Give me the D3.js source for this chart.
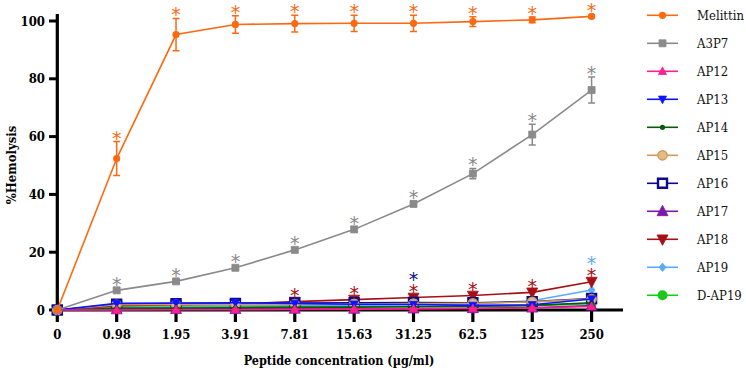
<!DOCTYPE html>
<html>
<head>
<meta charset="utf-8">
<script src="https://cdn.jsdelivr.net/npm/d3@7"></script>
<style>
  body { margin: 0; background: #fff; }
  svg { display: block; }
</style>
</head>
<body>
<div id="chart"></div>
<script>
// ---- data ----
const concentrations = ["0", "0.98", "1.95", "3.91", "7.81", "15.63", "31.25", "62.5", "125", "250"];
const yTicks = [0, 20, 40, 60, 80, 100];

const melittin    = [0, 52.4, 95.3, 98.8, 99.1, 99.2, 99.2, 99.8, 100.4, 101.6];
const melittinErr = [0, 5.9, 5.6, 3.0, 2.9, 2.8, 2.8, 1.7, 1.0, 0.5];
const a3p7        = [0, 6.8, 9.9, 14.6, 20.8, 27.9, 36.7, 47.2, 60.7, 76.1];
const a3p7Err     = [0, 0.6, 0.6, 0.7, 0.8, 0.8, 0.9, 1.8, 3.6, 4.5];
const ap12        = [0, 0, 0.1, 0.1, 0.2, 0.3, 0.4, 0.5, 0.7, 1.2];
const ap13        = [0, 2.3, 2.4, 2.5, 2.3, 2.0, 1.9, 1.6, 1.8, 3.8];
const ap14        = [0, 0.6, 0.7, 0.8, 0.9, 1.0, 1.1, 1.3, 1.6, 2.5];
const ap15        = [0, 1.8, 1.9, 1.9, 2.0, 2.1, 2.2, 2.3, 2.8, 3.8];
const ap16        = [0, 2.0, 2.2, 2.3, 2.4, 2.5, 2.6, 2.5, 2.9, 4.0];
const ap17        = [0, 0.2, 0.3, 0.3, 0.4, 0.4, 0.5, 0.6, 0.8, 1.5];
const ap18        = [0, 1.5, 1.8, 2.1, 2.9, 3.6, 4.3, 5.0, 6.1, 9.8];
const ap19        = [0, 1.4, 1.5, 1.5, 1.6, 1.7, 1.8, 2.0, 3.2, 6.9];
const dap19       = [0, 1.0, 1.0, 1.1, 1.1, 1.2, 1.2, 1.3, 1.5, 2.2];

// indices (into concentrations) marked with an asterisk
const starsMelittin = [1, 2, 3, 4, 5, 6, 7, 8, 9];
const starsA3P7     = [1, 2, 3, 4, 5, 6, 7, 8, 9];
const starsAP18     = [4, 5, 6, 7, 8, 9];
const starsAP16     = [6];
const starsAP19     = [9];

const series = [
  { name: "Melittin", values: melittin, err: melittinErr, color: "#fb6a12", marker: "circle", size: 3.6, stars: starsMelittin },
  { name: "A3P7", values: a3p7, err: a3p7Err, color: "#8a8a8a", marker: "square", size: 7, stars: starsA3P7 },
  { name: "AP12", values: ap12, color: "#ff1f8e", marker: "triangle", size: 8 },
  { name: "AP13", values: ap13, color: "#0a14ff", marker: "triangleDown", size: 8 },
  { name: "AP14", values: ap14, color: "#0b5a0b", marker: "circle", size: 2.6 },
  { name: "AP15", values: ap15, color: "#cf9a5a", fill: "#e2bc88", marker: "circle", size: 4.6 },
  { name: "AP16", values: ap16, color: "#0a0a8a", fill: "#ffffff", marker: "square", size: 9, stars: starsAP16 },
  { name: "AP17", values: ap17, color: "#7a1aa6", marker: "triangle", size: 11 },
  { name: "AP18", values: ap18, color: "#a80f14", marker: "triangleDown", size: 11, stars: starsAP18 },
  { name: "AP19", values: ap19, color: "#5aa9ff", marker: "diamond", size: 7, stars: starsAP19 },
  { name: "D-AP19", values: dap19, color: "#19c919", marker: "circle", size: 5 }
];

// ---- layout ----
const width = 746, height = 371;
const svg = d3.select("#chart").append("svg")
  .attr("width", width).attr("height", height);

const x = d3.scalePoint().domain(concentrations).range([57.3, 591.6]);
const y = d3.scaleLinear().domain([0, 100]).range([310, 21]);

const SERIF = "'DejaVu Serif Condensed', 'DejaVu Serif', serif";

function markerPath(type, s) {
  const h = s / 2;
  if (type === "square") return `M${-h},${-h}H${h}V${h}H${-h}Z`;
  if (type === "triangle") return `M0,${-h * 1.1}L${h},${h * 0.8}L${-h},${h * 0.8}Z`;
  if (type === "triangleDown") return `M0,${h * 1.1}L${h},${-h * 0.8}L${-h},${-h * 0.8}Z`;
  if (type === "diamond") return `M0,${-h * 1.2}L${h},0L0,${h * 1.2}L${-h},0Z`;
  return null;
}

function drawMarker(gg, s, cx, cy) {
  if (s.marker === "circle") {
    gg.append("circle").attr("cx", cx).attr("cy", cy).attr("r", s.size)
      .attr("fill", s.fill || s.color).attr("stroke", s.color).attr("stroke-width", s.fill ? 1.5 : 0);
  } else {
    const open = s.fill === "#ffffff";
    gg.append("path").attr("d", markerPath(s.marker, s.size))
      .attr("transform", `translate(${cx},${cy})`)
      .attr("fill", s.fill || s.color)
      .attr("stroke", s.color)
      .attr("stroke-width", open ? 2.4 : 0.8);
  }
}

// ---- axes ----
const axisG = svg.append("g");
axisG.append("line").attr("x1", 57.3).attr("x2", 57.3).attr("y1", 14).attr("y2", 311.5)
  .attr("stroke", "#000").attr("stroke-width", 3.2);
axisG.append("line").attr("x1", 56).attr("x2", 623).attr("y1", 310).attr("y2", 310)
  .attr("stroke", "#000").attr("stroke-width", 3.2);

yTicks.forEach(t => {
  axisG.append("line").attr("x1", 49).attr("x2", 57).attr("y1", y(t)).attr("y2", y(t))
    .attr("stroke", "#000").attr("stroke-width", 3);
  axisG.append("text").attr("x", 45).attr("y", y(t) + 4.5)
    .attr("text-anchor", "end").attr("font-family", SERIF).attr("font-weight", "bold")
    .attr("font-size", 13).text(t);
});

concentrations.forEach(c => {
  axisG.append("line").attr("x1", x(c)).attr("x2", x(c)).attr("y1", 310).attr("y2", 322)
    .attr("stroke", "#000").attr("stroke-width", 3.2);
  axisG.append("text").attr("x", x(c)).attr("y", 338.5)
    .attr("text-anchor", "middle").attr("font-family", SERIF).attr("font-weight", "bold")
    .attr("font-size", 13).text(c);
});

svg.append("text")
  .attr("x", 339).attr("y", 365)
  .attr("text-anchor", "middle").attr("font-family", SERIF).attr("font-weight", "bold")
  .attr("font-size", 12.5).text("Peptide concentration (µg/ml)");

svg.append("text")
  .attr("transform", "translate(16,165) rotate(-90)")
  .attr("text-anchor", "middle").attr("font-family", SERIF).attr("font-weight", "bold")
  .attr("font-size", 13).text("%Hemolysis");

// ---- series (first in legend drawn on top) ----
const line = d3.line().x((d, i) => x(concentrations[i])).y(d => y(d));
const plotG = svg.append("g");

series.slice().reverse().forEach(s => {
  const g = plotG.append("g");
  g.append("path").datum(s.values).attr("d", line)
    .attr("fill", "none").attr("stroke", s.color).attr("stroke-width", 1.6);
  if (s.err) {
    s.values.forEach((v, i) => {
      const e = s.err[i];
      if (!e) return;
      const cx = x(concentrations[i]);
      g.append("path")
        .attr("d", `M${cx},${y(v + e)}V${y(v - e)}M${cx - 3.5},${y(v + e)}H${cx + 3.5}M${cx - 3.5},${y(v - e)}H${cx + 3.5}`)
        .attr("stroke", s.color).attr("stroke-width", 1.5).attr("fill", "none");
    });
  }
  s.values.forEach((v, i) => drawMarker(g, s, x(concentrations[i]), y(v)));
});

// ---- significance asterisks ----
const starG = svg.append("g");
const stacked = {};
function addStar(s, i, cy) {
  starG.append("text").attr("x", x(concentrations[i])).attr("y", cy + 11)
    .attr("text-anchor", "middle").attr("font-family", "DejaVu Sans")
    .attr("font-size", 19).attr("fill", s.color).text("*");
}
// AP18 first, then the others stacked above it
["Melittin", "A3P7", "AP18", "AP16", "AP19"].forEach(name => {
  const s = series.find(d => d.name === name);
  s.stars.forEach(i => {
    const v = s.values[i];
    const e = s.err ? s.err[i] : 0;
    let cy = Math.min(y(v) - 10.5, y(v + e) - 8);
    if (stacked[i] !== undefined && (name === "AP16" || name === "AP19")) cy = stacked[i] - 12;
    if (name === "AP18") stacked[i] = cy;
    addStar(s, i, cy);
  });
});

// ---- legend ----
const legend = svg.append("g");
series.forEach((s, k) => {
  const ly = 15.3 + k * 28;
  legend.append("line").attr("x1", 647).attr("x2", 678).attr("y1", ly).attr("y2", ly)
    .attr("stroke", s.color).attr("stroke-width", 1.6);
  drawMarker(legend, s, 662.5, ly);
  legend.append("text").attr("x", 697).attr("y", ly + 4.8)
    .attr("font-family", SERIF).attr("font-size", 13).attr("fill", "#111").text(s.name);
});
</script>
</body>
</html>
